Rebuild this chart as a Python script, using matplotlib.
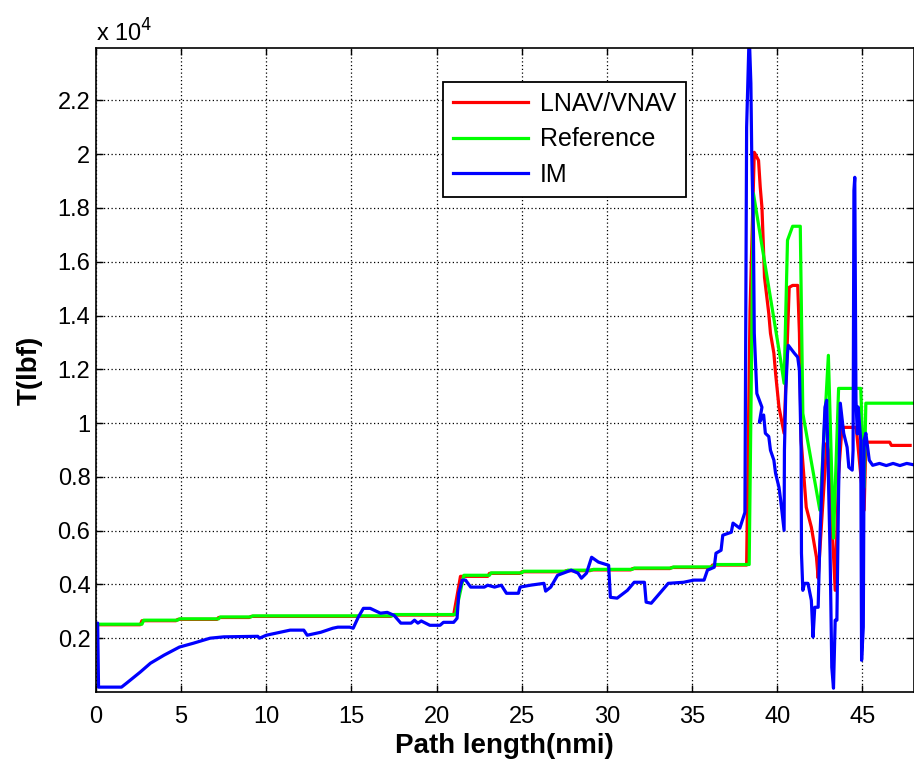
import numpy as np
import matplotlib.pyplot as plt
from matplotlib.ticker import FuncFormatter

plt.rcParams['font.family'] = ['Liberation Sans', 'DejaVu Sans']

# Reference thrust (lbf) vs path length (nmi)
ref_x = [0, 2.7, 2.8, 4.8, 4.9, 7.2, 7.3, 9.1, 9.2, 17.4, 17.5, 21.1, 21.6, 23.1, 23.2,
         25.0, 25.1, 27.6, 27.7, 29.1, 29.2, 31.5, 31.6, 33.8, 33.9, 36.2, 36.3, 38.35,
         38.6, 40.2, 40.4, 40.6, 40.9, 41.35, 41.5, 42.5, 43.0, 43.3, 43.6, 44.9, 45.1,
         45.2, 48]
ref_y = [2520, 2520, 2670, 2670, 2720, 2720, 2790, 2790, 2830, 2830, 2880, 2880, 4340,
         4340, 4430, 4430, 4490, 4490, 4530, 4530, 4560, 4560, 4610, 4610, 4650, 4650,
         4740, 4740, 18540, 12330, 11480, 16800, 17320, 17320, 10360, 6760, 12520, 5720,
         11290, 11290, 7610, 10740, 10740]

# LNAV/VNAV thrust
lnav_x = [0, 2.6, 2.7, 4.7, 4.8, 7.1, 7.2, 9.0, 9.1, 17.3, 17.4, 21.0, 21.4, 23.0, 23.1,
          24.9, 25.0, 27.5, 27.6, 29.0, 29.1, 31.4, 31.5, 33.7, 33.8, 36.1, 36.2, 38.2,
          38.4, 38.65, 38.9, 39.0, 39.1, 39.2, 39.25, 39.5, 39.6, 39.8, 39.9, 40.1, 40.4,
          40.7, 40.9, 41.2, 41.3, 41.4, 41.7, 42.0, 42.3, 42.4, 42.6, 42.9, 43.0, 43.4,
          43.6, 43.8, 44.6, 44.65, 45.1, 45.2, 46.6, 46.7, 47.8]
lnav_y = [2500, 2500, 2650, 2650, 2700, 2700, 2770, 2770, 2810, 2810, 2860, 2860, 4300,
          4300, 4410, 4410, 4470, 4470, 4510, 4510, 4540, 4540, 4590, 4590, 4630, 4630,
          4720, 4720, 14190, 20070, 19770, 18770, 18020, 16310, 15420, 14080, 13340, 12600,
          11850, 10590, 9620, 15050, 15120, 15120, 13340, 9360, 6870, 6130, 5010, 4230,
          6280, 9250, 9000, 3780, 8130, 9840, 9840, 9730, 6760, 9290, 9290, 9170, 9170]

# IM thrust
im_x = [0, 0.1, 0.15, 1.5, 1.8, 2.6, 3.2, 4.0, 4.9, 5.7, 6.7, 7.5, 9.5, 9.6, 10.0, 10.6,
        11.4, 12.2, 12.4, 13.2, 13.9, 14.2, 14.9, 15.1, 15.4, 15.7, 16.1, 16.7, 17.1,
        17.5, 17.9, 18.5, 18.7, 18.9, 19.1, 19.6, 20.2, 20.4, 21.0, 21.2, 21.3, 21.5,
        21.7, 22.0, 22.8, 23.0, 23.4, 23.8, 24.1, 24.8, 24.9, 25.5, 26.3, 26.4, 26.7,
        27.1, 27.9, 28.3, 28.5, 28.8, 29.1, 29.5, 30.1, 30.2, 30.6, 31.2, 31.6, 32.2,
        32.3, 32.6, 33.1, 33.6, 34.5, 35.1, 35.7, 35.9, 36.3, 36.4, 36.7, 36.8, 37.3,
        37.4, 37.8, 38.1, 38.2, 38.35, 38.45, 38.5, 38.6, 38.65, 38.8, 38.95, 39.1, 38.95,
        39.2, 39.3, 39.5, 39.6, 39.8, 39.9, 40.1, 40.2, 40.4, 40.42, 40.5, 40.6, 40.65,
        41.0, 41.2, 41.3, 41.4, 41.42, 41.5, 41.6, 41.8, 42.0, 42.1, 42.2, 42.4, 42.5,
        42.7, 42.8, 42.9, 43.1, 43.2, 43.3, 43.4, 43.5, 43.6, 43.7, 43.9, 44.1, 44.2,
        44.4, 44.45, 44.5, 44.55, 44.6, 44.62, 44.7, 44.75, 44.9, 44.95, 45.05, 45.1,
        45.2, 45.4, 45.6, 46.0, 46.4, 46.8, 47.2, 47.6, 48.0]
im_y = [2560, 2560, 180, 180, 330, 740, 1070, 1370, 1670, 1810, 2000, 2050, 2070, 2000,
        2110, 2190, 2300, 2300, 2110, 2220, 2370, 2410, 2410, 2370, 2780, 3110, 3110,
        2930, 2960, 2850, 2560, 2560, 2670, 2560, 2640, 2480, 2480, 2590, 2590, 2740,
        3670, 4160, 4160, 3900, 3900, 3970, 3900, 3970, 3670, 3670, 3900, 3970, 4040,
        3750, 3900, 4340, 4530, 4420, 4230, 4420, 5010, 4830, 4710, 3520, 3490, 3780,
        4080, 4080, 3340, 3300, 3670, 4040, 4080, 4160, 4160, 4530, 4640, 5160, 5270,
        5830, 5940, 6280, 6090, 6680, 21000, 24500, 22630, 20030, 17060, 13340, 11100,
        10850, 10590, 10030, 10300, 9620, 9500, 8990, 8620, 8130, 7610, 7130, 6010, 8990,
        11220, 12600, 12890, 12600, 12450, 11960, 8990, 5160, 3780, 4040, 4040, 3410,
        2040, 3150, 3150, 5640, 9100, 10590, 10850, 5160, 920, 140, 2670, 2670, 7500,
        10740, 9620, 9100, 8360, 8250, 8990, 18650, 19140, 13710, 10850, 9600, 10600,
        9360, 1180, 2410, 9360, 9620, 8620, 8430, 8500, 8420, 8500, 8420, 8500, 8450]

fig = plt.figure(figsize=(9.14, 7.68), dpi=100)
ax = fig.add_axes([0.105, 0.099, 0.8945, 0.8385])

ax.plot(lnav_x, lnav_y, color='#ff0000', linewidth=2.3, label='LNAV/VNAV')
ax.plot(ref_x, ref_y, color='#00ff00', linewidth=2.3, label='Reference')
ax.plot(im_x, im_y, color='#0000ff', linewidth=2.3, label='IM')

ax.set_xlim(0, 48)
ax.set_ylim(0, 23950)
ax.set_xticks(np.arange(0, 46, 5))
ax.set_yticks(np.arange(2000, 22001, 2000))
ax.yaxis.set_major_formatter(FuncFormatter(lambda v, p: '%g' % round(v / 1e4, 1)))
ax.tick_params(direction='in', top=True, right=True, labelsize=17, length=5, width=1)
ax.tick_params(axis='x', pad=10)
ax.tick_params(axis='y', pad=4)
ax.grid(True, color='black', linestyle=(0, (1, 2)), linewidth=0.9)
for s in ax.spines.values():
    s.set_linewidth(1.2)

ax.text(0, 1.002, r'x 10$^{4}$', transform=ax.transAxes, fontsize=17, ha='left', va='bottom')
ax.set_xlabel('Path length(nmi)', fontsize=20, fontweight='bold', labelpad=4)
ax.set_ylabel('T(lbf)', fontsize=20, fontweight='bold', labelpad=11)

leg = ax.legend(loc='upper left', bbox_to_anchor=(0.424, 0.947), fontsize=18,
                fancybox=False, framealpha=1, edgecolor='black', borderpad=0.4,
                handlelength=3.0, handletextpad=0.5, labelspacing=0.45, borderaxespad=0)
leg.get_frame().set_linewidth(1.3)

fig.savefig('out.png', dpi=100)
